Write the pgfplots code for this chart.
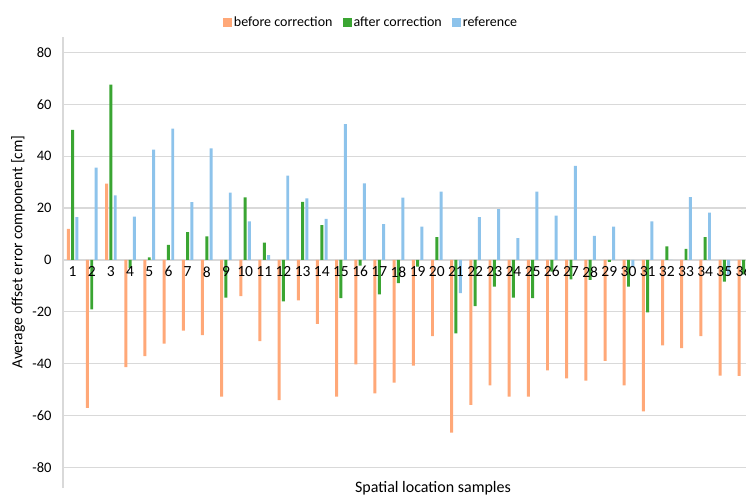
\documentclass[border=0pt]{standalone}
\usepackage{fontspec}
\setmainfont{Carlito}
\usepackage{pgfplots}
\pgfplotsset{compat=1.18}
\definecolor{cbefore}{RGB}{255,168,120}
\definecolor{cafter}{RGB}{58,165,50}
\definecolor{cref}{RGB}{141,195,235}
\definecolor{gridgray}{RGB}{217,217,217}

\begin{document}
\begin{tikzpicture}[x=1pt,y=1pt]
\path[use as bounding box] (0,0) rectangle (746,496);
\begin{axis}[
  at={(63pt,8pt)}, anchor=south west,
  scale only axis, width=683pt, height=451pt,
  xmin=0.5, xmax=36.13, ymin=-88, ymax=86,
  axis x line=middle, axis y line=left,
  hide obscured x ticks=false, hide obscured y ticks=false,
  axis line style={gridgray, line width=1.2pt, -},
  ytick={-80,-60,...,80},
  xtick={1,...,36}, xticklabels={},
  ymajorgrids, grid style={gridgray, line width=1.2pt},
  major tick length=0pt,
  /pgf/number format/assume math mode=true,
  yticklabel style={font=\fontsize{14.5}{16}\selectfont, xshift=-8pt},
  legend style={at={(0.451,1.033)}, anchor=center, draw=none, fill=none,
    legend columns=-1, font=\fontsize{14}{16}\selectfont,
    /tikz/every even column/.append style={column sep=8pt}},
  legend image code/.code={\fill[#1,draw=none] (0pt,-4.5pt) rectangle (9pt,4.5pt);},
]
\addplot[ybar, bar width=0.155, bar shift=-0.225, fill=cbefore, draw=none] coordinates {
(1,12.0) (2,-57.1) (3,29.4) (4,-41.4) (5,-37.1) (6,-32.3) (7,-27.3) (8,-29.0) (9,-52.7)
(10,-14.0) (11,-31.3) (12,-54.1) (13,-15.6) (14,-24.7) (15,-52.7) (16,-40.3) (17,-51.5)
(18,-47.3) (19,-40.8) (20,-29.4) (21,-66.6) (22,-55.9) (23,-48.4) (24,-52.7) (25,-52.7)
(26,-42.6) (27,-45.7) (28,-46.6) (29,-39.0) (30,-48.4) (31,-58.4) (32,-33.0) (33,-34.0)
(34,-29.4) (35,-44.6) (36,-44.7)};
\addplot[ybar, bar width=0.155, bar shift=0, fill=cafter, draw=none] coordinates {
(1,50.2) (2,-19.1) (3,67.6) (4,-3.2) (5,1.0) (6,5.8) (7,10.7) (8,9.1) (9,-14.6)
(10,24.1) (11,6.7) (12,-16.0) (13,22.4) (14,13.4) (15,-14.7) (16,-2.2) (17,-13.3)
(18,-9.0) (19,-2.6) (20,8.8) (21,-28.3) (22,-17.8) (23,-10.3) (24,-14.6) (25,-14.7)
(26,-4.5) (27,-7.5) (28,-7.7) (29,-0.8) (30,-10.3) (31,-20.2) (32,5.2) (33,4.3)
(34,8.8) (35,-8.4) (36,-5.6)};
\addplot[ybar, bar width=0.155, bar shift=0.225, fill=cref, draw=none] coordinates {
(1,16.5) (2,35.6) (3,24.9) (4,16.7) (5,42.5) (6,50.6) (7,22.3) (8,43.0) (9,26.0)
(10,14.9) (11,1.8) (12,32.5) (13,23.7) (14,15.8) (15,52.4) (16,29.5) (17,13.8)
(18,24.0) (19,12.8) (20,26.3) (21,-12.8) (22,16.5) (23,19.6) (24,8.4) (25,26.3)
(26,17.1) (27,36.3) (28,9.3) (29,12.8) (30,-2.8) (31,14.9) (32,0) (33,24.2)
(34,18.2) (35,-5.8) (36,-3.0)};
\legend{before correction, after correction, reference}
% category labels, drawn over the bars
\addplot[draw=none, mark=none, forget plot, point meta=x,
  nodes near coords={\pgfmathprintnumber{\pgfplotspointmeta}},
  every node near coord/.append style={anchor=north, yshift=-3pt,
    font=\fontsize{15.5}{17}\selectfont}] coordinates {
(1,0) (2,0) (3,0) (4,0) (5,0) (6,0) (7,0) (8,0) (9,0) (10,0) (11,0) (12,0)
(13,0) (14,0) (15,0) (16,0) (17,0) (18,0) (19,0) (20,0) (21,0) (22,0) (23,0) (24,0)
(25,0) (26,0) (27,0) (28,0) (29,0) (30,0) (31,0) (32,0) (33,0) (34,0) (35,0) (36,0)};
\end{axis}
\node[rotate=90, font=\fontsize{15.5}{18}\selectfont] at (18,244) {Average offset error component [cm]};
\node[anchor=base, font=\fontsize{16}{19}\selectfont] at (433,4) {Spatial location samples};
\end{tikzpicture}
\end{document}
